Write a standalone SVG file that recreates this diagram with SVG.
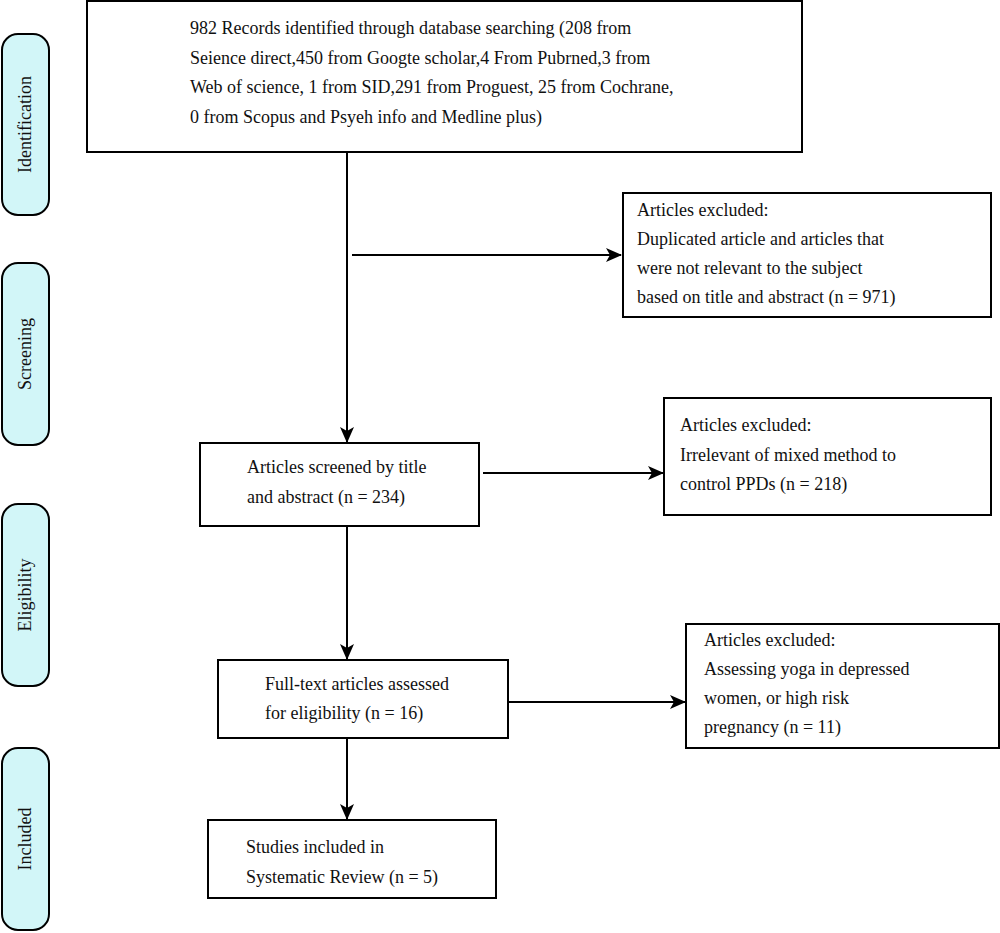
<svg xmlns="http://www.w3.org/2000/svg" width="1000" height="933" viewBox="0 0 1000 933">
<style>
.box{fill:#fff;stroke:#000;stroke-width:2}
.pill{fill:#d2f6f8;stroke:#000;stroke-width:2}
text{font-family:"Liberation Serif","Times New Roman",serif;font-size:18px;fill:#111}
.side{text-anchor:middle}
.con{stroke:#000;stroke-width:2;fill:none;marker-end:url(#ah)}
</style>
<defs>
<marker id="ah" markerWidth="16" markerHeight="14" refX="15" refY="7" orient="auto" markerUnits="userSpaceOnUse">
<path d="M0,0 L16,7 L0,14 L4,7 Z" fill="#000"/>
</marker>
</defs>
<g id="stage-identification"><rect class="pill" x="2" y="34" width="47" height="181" rx="16"/><text class="side" transform="translate(31,124.5) rotate(-90)">Identification</text></g>
<g id="stage-screening"><rect class="pill" x="2" y="263" width="47" height="182" rx="16"/><text class="side" transform="translate(31,354) rotate(-90)">Screening</text></g>
<g id="stage-eligibility"><rect class="pill" x="2" y="504" width="47" height="182" rx="16"/><text class="side" transform="translate(31,595) rotate(-90)">Eligibility</text></g>
<g id="stage-included"><rect class="pill" x="2" y="748" width="47" height="182" rx="16"/><text class="side" transform="translate(31,839) rotate(-90)">Included</text></g>
<g id="records"><rect class="box" x="87" y="1" width="715" height="151"/>
<text x="190" y="34">982 Records identified through database searching (208 from</text>
<text x="190" y="64">Seience direct,450 from Googte scholar,4 From Pubrned,3 from</text>
<text x="190" y="93">Web of science, 1 from SID,291 from Proguest, 25 from Cochrane,</text>
<text x="190" y="123">0 from Scopus and Psyeh info and Medline plus)</text></g>
<g id="excluded1"><rect class="box" x="623" y="193" width="368" height="124"/>
<text x="637" y="216">Articles excluded:</text>
<text x="637" y="245">Duplicated article and articles that</text>
<text x="637" y="274">were not relevant to the subject</text>
<text x="637" y="303">based on title and abstract (n = 971)</text></g>
<g id="screened"><rect class="box" x="200" y="443" width="279" height="83"/>
<text x="247" y="473">Articles screened by title</text>
<text x="247" y="503">and abstract (n = 234)</text></g>
<g id="excluded2"><rect class="box" x="664" y="398" width="327" height="117"/>
<text x="680" y="431">Articles excluded:</text>
<text x="680" y="461">Irrelevant of mixed method to</text>
<text x="680" y="490">control PPDs (n = 218)</text></g>
<g id="fulltext"><rect class="box" x="218" y="660" width="290" height="78"/>
<text x="265" y="690">Full-text articles assessed</text>
<text x="265" y="719">for eligibility (n = 16)</text></g>
<g id="excluded3"><rect class="box" x="686" y="624" width="313" height="124"/>
<text x="704" y="646">Articles excluded:</text>
<text x="704" y="675">Assessing yoga in depressed</text>
<text x="704" y="704">women, or high risk</text>
<text x="704" y="733">pregnancy (n = 11)</text></g>
<g id="included"><rect class="box" x="208" y="820" width="288" height="78"/>
<text x="246" y="853">Studies included in</text>
<text x="246" y="883">Systematic Review (n = 5)</text></g>
<g id="connectors">
<path class="con" d="M347,152 V442"/>
<path class="con" d="M352,255 H621"/>
<path class="con" d="M483,473 H663"/>
<path class="con" d="M347,526 V659"/>
<path class="con" d="M508,702 H685"/>
<path class="con" d="M347,738 V819"/>
</g>
</svg>
